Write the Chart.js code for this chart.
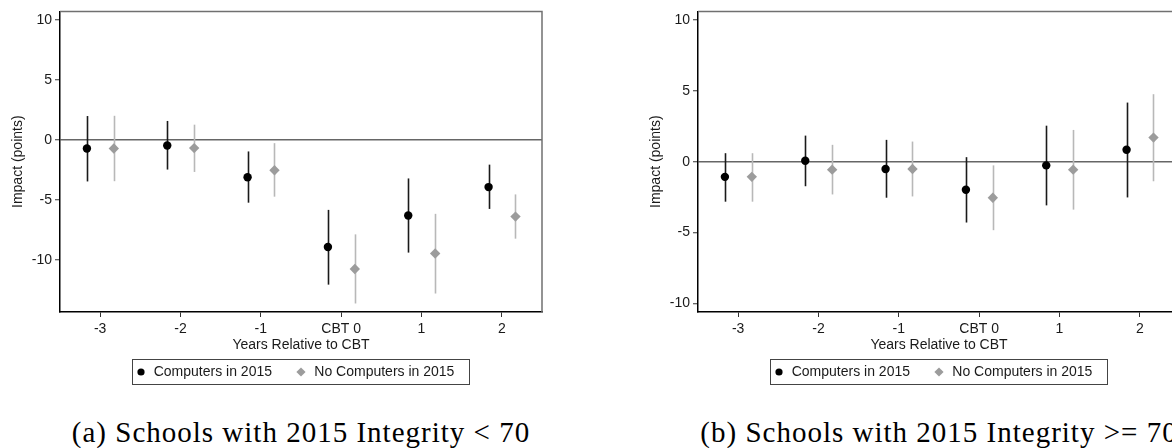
<!DOCTYPE html>
<html>
<head>
<meta charset="utf-8">
<script src="https://cdn.jsdelivr.net/npm/chart.js"></script>
<style>
  html, body { margin: 0; padding: 0; background: #fff; }
  body { width: 1172px; height: 448px; position: relative; overflow: hidden; }
  canvas { position: absolute; top: 0; }
  .caption {
    position: absolute; top: 418px; width: 602px; text-align: center;
    font: 29px/29px "Liberation Serif", "Times New Roman", serif;
    letter-spacing: 1px; color: #000; white-space: nowrap;
  }
</style>
</head>
<body>
<canvas id="panelA" width="560" height="392" style="left:0px"></canvas>
<canvas id="panelB" width="560" height="392" style="left:638px"></canvas>
<div class="caption" style="left:0px">(a) Schools with 2015 Integrity &lt; 70</div>
<div class="caption" style="left:638px">(b) Schools with 2015 Integrity &gt;= 70</div>
<script>
// years relative to CBT and their tick labels
const years = [-3, -2, -1, 0, 1, 2];
const xLabels = ['-3', '-2', '-1', 'CBT 0', '1', '2'];
const yTicks = [-10, -5, 0, 5, 10];
const seriesNames = ['Computers in 2015', 'No Computers in 2015'];

// (a) Integrity < 70
const compA     = [-0.72, -0.47, -3.12, -8.93, -6.31, -3.94];
const compALo   = [-3.47, -2.48, -5.24, -12.07, -9.40, -5.76];
const compAHi   = [1.98, 1.57, -0.97, -5.84, -3.22, -2.07];
const noCompA   = [-0.72, -0.69, -2.54, -10.77, -9.48, -6.40];
const noCompALo = [-3.45, -2.68, -4.74, -13.64, -12.81, -8.24];
const noCompAHi = [2.00, 1.26, -0.28, -7.88, -6.17, -4.55];

// (b) Integrity >= 70
const compB     = [-1.07, 0.07, -0.51, -1.98, -0.26, 0.84];
const compBLo   = [-2.82, -1.73, -2.54, -4.29, -3.08, -2.52];
const compBHi   = [0.60, 1.84, 1.54, 0.32, 2.54, 4.17];
const noCompB   = [-1.07, -0.56, -0.51, -2.54, -0.56, 1.70];
const noCompBLo = [-2.82, -2.31, -2.45, -4.83, -3.38, -1.38];
const noCompBHi = [0.60, 1.19, 1.42, -0.26, 2.24, 4.76];

const FONT = '"Liberation Sans", Arial, sans-serif';
const INK = '#1a1a1a';
const DARK = '#000000';
const GREY = '#9c9c9c';
const GREY_BAR = '#b8b8b8';

// vertical confidence bars, drawn under the markers
const errorBars = {
  id: 'errorBars',
  beforeDatasetsDraw(chart) {
    const { ctx, scales: { x, y } } = chart;
    ctx.save();
    chart.data.datasets.forEach((ds) => {
      ctx.strokeStyle = ds.barColor;
      ctx.lineWidth = 1.6;
      ds.data.forEach((p, i) => {
        const px = Math.round(x.getPixelForValue(p.x)) + 0.5;
        ctx.beginPath();
        ctx.moveTo(px, y.getPixelForValue(ds.lo[i]));
        ctx.lineTo(px, y.getPixelForValue(ds.hi[i]));
        ctx.stroke();
      });
    });
    ctx.restore();
  }
};

// grey top and right sides of the plot frame
const frame = {
  id: 'frame',
  afterDraw(chart) {
    const { ctx, chartArea: a } = chart;
    ctx.save();
    ctx.strokeStyle = '#707070';
    ctx.lineWidth = 1.5;
    ctx.beginPath();
    ctx.moveTo(a.left, a.top);
    ctx.lineTo(a.right, a.top);
    ctx.lineTo(a.right, a.bottom);
    ctx.stroke();
    ctx.restore();
  }
};

// Stata style legend in a box under the axis title
const legendBox = {
  id: 'legendBox',
  afterDraw(chart) {
    const { ctx, chartArea: a } = chart;
    const ds = chart.data.datasets;
    ctx.save();
    ctx.font = '14px ' + FONT;
    const w1 = ctx.measureText(ds[0].label).width;
    const w2 = ctx.measureText(ds[1].label).width;
    const boxW = 9 + 12.7 + w1 + 29 + 13.3 + w2 + 15;
    const x0 = Math.round((a.left + a.right) / 2 - boxW / 2);
    const y0 = Math.round(a.bottom + 47);
    const h = 25;
    ctx.strokeStyle = '#444';
    ctx.lineWidth = 1;
    ctx.strokeRect(x0 + 0.5, y0 + 0.5, Math.round(boxW), h);
    const cy = y0 + h / 2 + 0.5;

    const m1 = x0 + 9;
    ctx.fillStyle = DARK;
    ctx.beginPath();
    ctx.arc(m1, cy, 3.6, 0, Math.PI * 2);
    ctx.fill();

    const m2 = m1 + 12.7 + w1 + 29;
    ctx.fillStyle = GREY;
    ctx.beginPath();
    ctx.moveTo(m2 - 4.6, cy);
    ctx.lineTo(m2, cy - 4.6);
    ctx.lineTo(m2 + 4.6, cy);
    ctx.lineTo(m2, cy + 4.6);
    ctx.closePath();
    ctx.fill();

    ctx.fillStyle = INK;
    ctx.textBaseline = 'middle';
    ctx.textAlign = 'left';
    ctx.fillText(ds[0].label, m1 + 12.7, cy);
    ctx.fillText(ds[1].label, m2 + 13.3, cy);
    ctx.restore();
  }
};

function makePanel(id, comp, compLo, compHi, noComp, noCompLo, noCompHi, yMin, yMax) {
  const data = {
    datasets: [
      {
        label: seriesNames[0],
        data: years.map((yr, i) => ({ x: yr - 0.165, y: comp[i] })),
        lo: compLo,
        hi: compHi,
        barColor: INK,
        pointStyle: 'circle',
        pointRadius: 4.2,
        pointBackgroundColor: DARK,
        pointBorderWidth: 0,
      },
      {
        label: seriesNames[1],
        data: years.map((yr, i) => ({ x: yr + 0.17, y: noComp[i] })),
        lo: noCompLo,
        hi: noCompHi,
        barColor: GREY_BAR,
        pointStyle: 'rectRot',
        pointRadius: 5.2,
        pointBackgroundColor: GREY,
        pointBorderWidth: 0,
      }
    ]
  };

  const config = {
    type: 'scatter',
    data: data,
    options: {
      responsive: false,
      animation: false,
      devicePixelRatio: 1,
      layout: { padding: { left: 0, top: 9, right: 18, bottom: 38.6 } },
      plugins: {
        legend: { display: false },
        tooltip: { enabled: false }
      },
      scales: {
        x: {
          type: 'linear',
          min: -3.5,
          max: 2.5,
          afterBuildTicks: (scale) => { scale.ticks = years.map(v => ({ value: v })); },
          afterFit: (scale) => { scale.height = 41.4; },
          border: { color: DARK, width: 1.5 },
          grid: { drawOnChartArea: false, tickLength: 5, tickColor: '#333', tickWidth: 1 },
          ticks: {
            padding: 4,
            color: INK,
            font: { family: FONT, size: 14 },
            maxRotation: 0,
            callback: (val) => xLabels[years.indexOf(val)]
          },
          title: {
            display: true,
            text: 'Years Relative to CBT',
            color: INK,
            font: { family: FONT, size: 14 },
            padding: { top: 0, bottom: 0 }
          }
        },
        y: {
          min: yMin,
          max: yMax,
          afterBuildTicks: (scale) => { scale.ticks = yTicks.map(v => ({ value: v })); },
          afterFit: (scale) => { scale.width = 60; },
          border: { color: DARK, width: 1.5 },
          grid: {
            color: (ctx) => ctx.tick && ctx.tick.value === 0 ? '#666' : 'rgba(0,0,0,0)',
            lineWidth: 1.5,
            tickLength: 5,
            tickColor: '#333',
            tickWidth: 1
          },
          ticks: {
            padding: 3,
            color: INK,
            font: { family: FONT, size: 14 }
          },
          title: {
            display: true,
            text: 'Impact (points)',
            color: INK,
            font: { family: FONT, size: 14 },
            padding: { top: 10, bottom: 0 }
          }
        }
      }
    },
    plugins: [errorBars, frame, legendBox]
  };

  return new Chart(document.getElementById(id), config);
}

const chartA = makePanel('panelA', compA, compALo, compAHi, noCompA, noCompALo, noCompAHi, -14.35, 10.7);
const chartB = makePanel('panelB', compB, compBLo, compBHi, noCompB, noCompBLo, noCompBHi, -10.6, 10.6);
</script>
</body>
</html>
